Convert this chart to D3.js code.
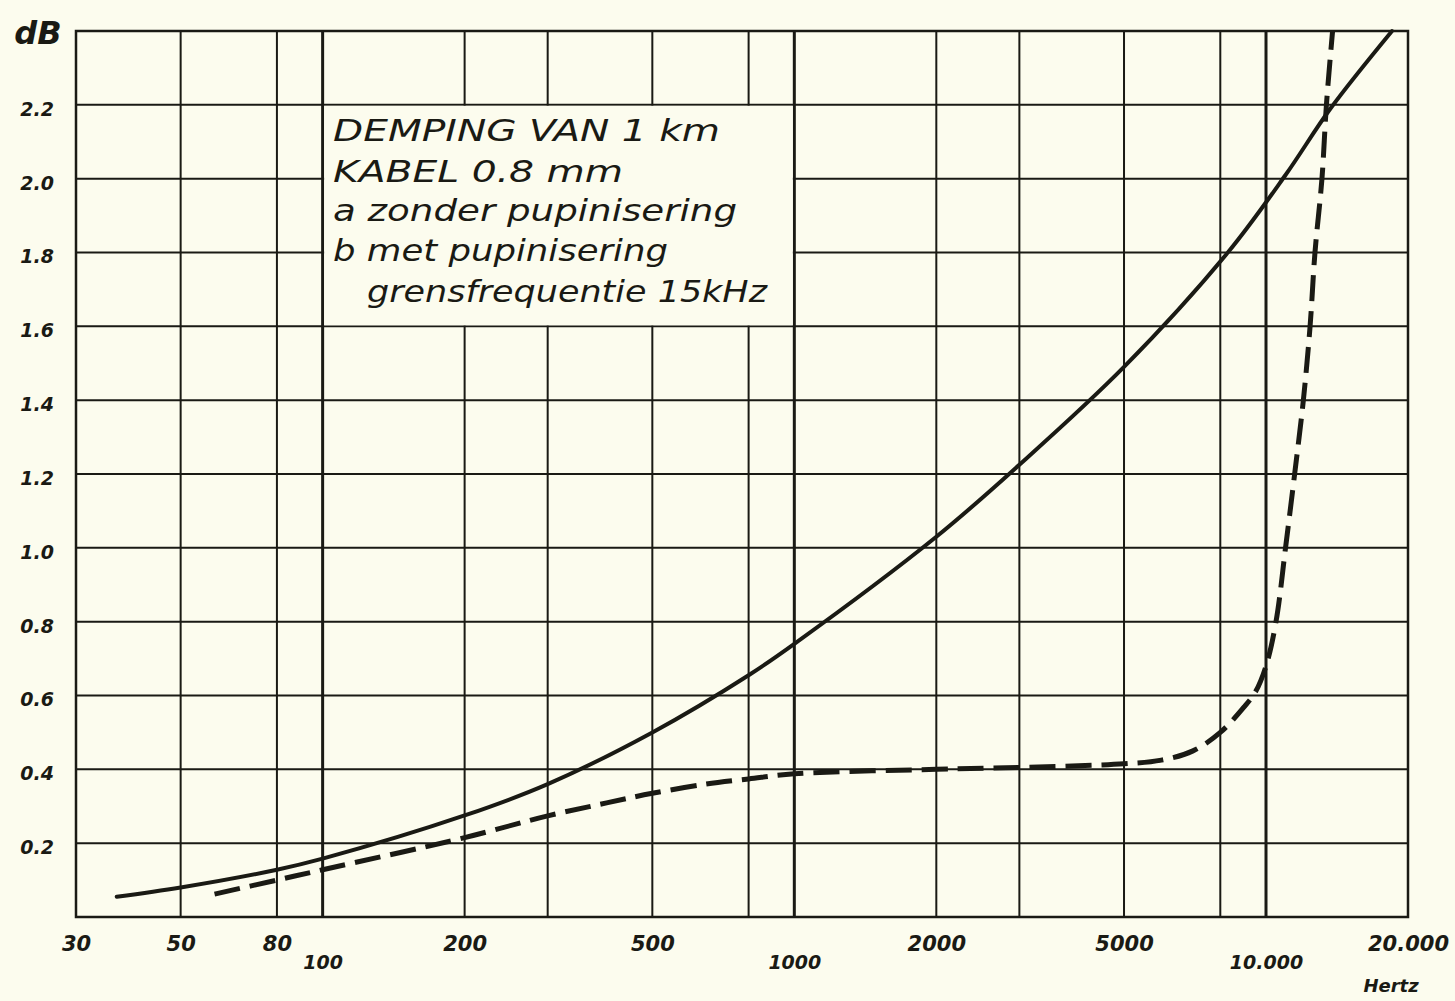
<!DOCTYPE html>
<html>
<head>
<meta charset="utf-8">
<script src="https://cdn.jsdelivr.net/npm/d3@7"></script>
<style>
  html, body { margin: 0; padding: 0; background: #fcfcee; }
  svg { display: block; }
  .lbl { font-family: "DejaVu Sans", sans-serif; font-style: italic; font-weight: bold; fill: #1a1a14; }
  .legend { font-family: "DejaVu Sans", sans-serif; font-style: italic; fill: #1a1a14; }
</style>
</head>
<body>
<svg id="chart" width="1455" height="1001"></svg>
<script>
// grid & ticks
const gridFreqs = [30, 50, 80, 100, 200, 300, 500, 800, 1000, 2000, 3000, 5000, 8000, 10000, 20000];
const decadeFreqs = [100, 1000, 10000];
const xTickValues = [30, 50, 80, 100, 200, 500, 1000, 2000, 5000, 10000, 20000];
const xTickText = ["30", "50", "80", "100", "200", "500", "1000", "2000", "5000", "10.000", "20.000"];
const yTickValues = [0.2, 0.4, 0.6, 0.8, 1.0, 1.2, 1.4, 1.6, 1.8, 2.0, 2.2];
const gridDb = [0.2, 0.4, 0.6, 0.8, 1.0, 1.2, 1.4, 1.6, 1.8, 2.0, 2.2];

// curve a: zonder pupinisering
const freqA = [36.6, 50, 80, 100, 200, 300, 500, 800, 1000, 2000, 3000, 5000, 8300, 11000, 13700, 18500];
const dbA   = [0.055, 0.08, 0.128, 0.158, 0.275, 0.36, 0.50, 0.655, 0.74, 1.03, 1.225, 1.49, 1.80, 2.01, 2.19, 2.4];

// curve b: met pupinisering, grensfrequentie 15 kHz
const freqB = [59, 80, 100, 200, 300, 400, 500, 650, 800, 1000, 2000, 3000, 5000, 6000, 7000, 8000, 9000, 9500, 10000, 10500, 11000, 11500, 12000, 12400, 12700, 13140, 13430, 13840];
const dbB   = [0.062, 0.100, 0.128, 0.215, 0.274, 0.309, 0.335, 0.36, 0.374, 0.388, 0.40, 0.405, 0.415, 0.425, 0.45, 0.50, 0.57, 0.61, 0.68, 0.80, 1.0, 1.2, 1.4, 1.6, 1.8, 2.0, 2.2, 2.4];

const legendLines = ["DEMPING VAN 1 km", "KABEL 0.8 mm", "a zonder pupinisering", "b met pupinisering", "grensfrequentie 15kHz"];

const ink = "#1a1a14";
const bg = "#fcfcee";

const svg = d3.select("#chart");
const x = d3.scaleLog().domain([30, 20000]).range([76, 1408]);
const y = d3.scaleLinear().domain([0, 2.4]).range([917, 31]);

svg.append("rect").attr("width", 1455).attr("height", 1001).attr("fill", bg);

// grid
const grid = svg.append("g");
grid.selectAll(".hl").data(gridDb).join("line")
  .attr("x1", x(30)).attr("x2", x(20000))
  .attr("y1", d => y(d)).attr("y2", d => y(d))
  .attr("stroke", ink).attr("stroke-width", 2);
grid.selectAll(".vl").data(gridFreqs).join("line")
  .attr("x1", d => x(d)).attr("x2", d => x(d))
  .attr("y1", y(0)).attr("y2", y(2.4))
  .attr("stroke", ink)
  .attr("stroke-width", d => decadeFreqs.includes(d) ? 3 : 2);

// frame
svg.append("rect")
  .attr("x", x(30)).attr("y", y(2.4))
  .attr("width", x(20000) - x(30)).attr("height", y(0) - y(2.4))
  .attr("fill", "none").attr("stroke", ink).attr("stroke-width", 2.5);

// legend box: blank out the grid between 100..1000 Hz and 1.6..2.2 dB
const bx0 = x(100), bx1 = x(1000), by0 = y(2.2), by1 = y(1.6);
svg.append("rect")
  .attr("x", bx0 + 1.5).attr("y", by0 + 1)
  .attr("width", bx1 - bx0 - 3).attr("height", by1 - by0 - 2)
  .attr("fill", bg);

const legendLayout = [
  { x: 333, y: 141, w: 387 },
  { x: 333, y: 182, w: 290 },
  { x: 333, y: 221, w: 404 },
  { x: 333, y: 261, w: 335 },
  { x: 367, y: 302, w: 400 }
];
svg.append("g").selectAll("text").data(legendLines).join("text")
  .attr("class", "legend")
  .attr("x", (d, i) => legendLayout[i].x)
  .attr("y", (d, i) => legendLayout[i].y)
  .attr("textLength", (d, i) => legendLayout[i].w)
  .attr("lengthAdjust", "spacingAndGlyphs")
  .attr("font-size", 30)
  .text(d => d);

// curves
const line = d3.line().x(d => x(d[0])).y(d => y(d[1])).curve(d3.curveCatmullRom.alpha(0.5));
svg.append("path")
  .datum(freqA.map((f, i) => [f, dbA[i]]))
  .attr("d", line).attr("fill", "none")
  .attr("stroke", ink).attr("stroke-width", 4).attr("stroke-linecap", "round");
svg.append("path")
  .datum(freqB.map((f, i) => [f, dbB[i]]))
  .attr("d", line).attr("fill", "none")
  .attr("stroke", ink).attr("stroke-width", 5)
  .attr("stroke-dasharray", "26,10");

// x axis labels
const xAxis = d3.axisBottom(x).tickValues(xTickValues).tickSize(0)
  .tickFormat((d, i) => xTickText[i]);
const gx = svg.append("g").attr("transform", `translate(0,${y(0)})`).call(xAxis);
gx.select(".domain").remove();
gx.selectAll("text")
  .attr("class", "lbl")
  .attr("fill", ink)
  .attr("font-size", d => decadeFreqs.includes(d) ? 19 : 21)
  .attr("dy", null)
  .attr("y", d => decadeFreqs.includes(d) ? 52 : 34);

// y axis labels
const yAxis = d3.axisLeft(y).tickValues(yTickValues).tickSize(0).tickFormat(d3.format(".1f"));
const gy = svg.append("g").attr("transform", `translate(54,0)`).call(yAxis);
gy.select(".domain").remove();
gy.selectAll("text")
  .attr("class", "lbl")
  .attr("fill", ink)
  .attr("font-size", 19)
  .attr("x", 0)
  .attr("dy", "0.55em");

svg.append("text").attr("class", "lbl")
  .attr("x", 38).attr("y", 44).attr("text-anchor", "middle")
  .attr("font-size", 32)
  .text("dB");

svg.append("text").attr("class", "lbl")
  .attr("x", 1391).attr("y", 992).attr("text-anchor", "middle")
  .attr("font-size", 18)
  .text("Hertz");
</script>
</body>
</html>
